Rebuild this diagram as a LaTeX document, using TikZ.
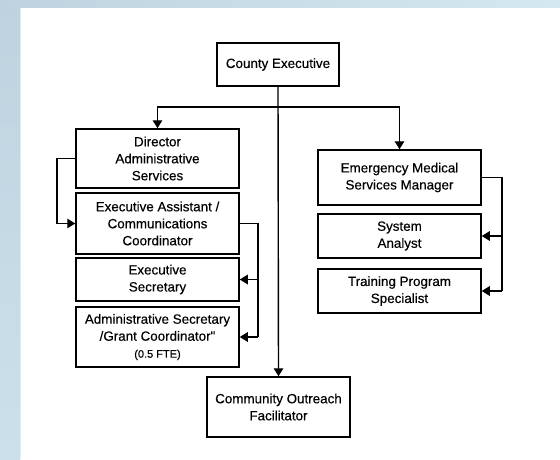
\documentclass[tikz,border=0pt]{standalone}
\usepackage{fontspec}
\setmainfont{Liberation Sans}
\newfontfamily\boxfont[FakeBold=0.3]{Liberation Sans}
\usetikzlibrary{arrows.meta}
\definecolor{bgtl}{HTML}{BED3DF}
\definecolor{bgbl}{HTML}{CBE0EA}
\definecolor{bgtr}{HTML}{D4E8F0}
\begin{document}
\begin{tikzpicture}[x=1pt,y=-1pt,
  box/.style={draw=black, line width=1.5pt, fill=white, align=center, inner sep=0pt,
    font=\boxfont\fontsize{13.4}{17}\selectfont},
  arr/.style={line width=1.4pt, -{Triangle[length=8pt,width=9.5pt]}},
  ln/.style={line width=1.4pt}]
\useasboundingbox (0,0) rectangle (560,459);
% background
\shade[top color=bgtl, bottom color=bgbl] (0,0) rectangle (20,459);
\shade[left color=bgtl, right color=bgtr] (0,0) rectangle (560,8);
\fill[white] (20,8) rectangle (560,459);
\draw[color=bgbl!60!white, line width=1pt] (20.5,8) -- (20.5,459);
% nodes
\node[box, minimum width=122pt, minimum height=43pt] (ce) at (278,64.5) {County Executive};
\node[box, minimum width=163pt, minimum height=59pt] (d) at (157.5,158.5) {Director\\Administrative\\Services};
\node[box, minimum width=163pt, minimum height=61pt] (ea) at (157.5,223.5) {Executive Assistant /\\Communications\\Coordinator};
\node[box, minimum width=163pt, minimum height=43pt] (es) at (157.5,279.5) {Executive\\Secretary};
\node[box, minimum width=163pt, minimum height=60pt] (as) at (157.5,337) {Administrative Secretary\\/Grant Coordinator"\\{\fontsize{11}{14}\selectfont (0.5 FTE)}};
\node[box, minimum width=143pt, minimum height=60pt] (co) at (278.5,407) {Community Outreach\\Facilitator};
\node[box, minimum width=163pt, minimum height=55pt] (ems) at (399.5,177.5) {Emergency Medical\\Services Manager};
\node[box, minimum width=163pt, minimum height=44pt] (sa) at (399.5,236) {System\\Analyst};
\node[box, minimum width=163pt, minimum height=44pt] (tp) at (399.5,291) {Training Program\\Specialist};
% connectors
\coordinate (bar) at (278,107);
\coordinate (lx) at (57,0);
\coordinate (rx) at (258,0);
\coordinate (rx2) at (502,0);
\draw[arr] (ce.south) -- (co.north);
\draw[arr] (bar) -| (d.north);
\draw[arr] (bar) -| (ems.north);
\draw[arr] (d.west) -- (lx |- d.west) -- (lx |- ea.west) -- (ea.west);
\draw[ln] (ea.east) -- (rx |- ea.east) -- (rx |- as.east);
\draw[arr] (rx |- es.east) -- (es.east);
\draw[arr] (rx |- as.east) -- (as.east);
\draw[ln] (ems.east) -- (rx2 |- ems.east) -- (rx2 |- tp.east);
\draw[arr] (rx2 |- sa.east) -- (sa.east);
\draw[arr] (rx2 |- tp.east) -- (tp.east);
\end{tikzpicture}
\end{document}
